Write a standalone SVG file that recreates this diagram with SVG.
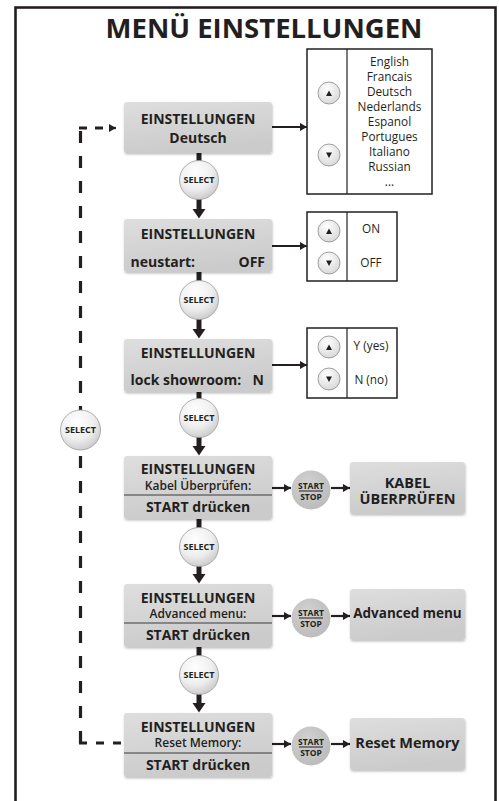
<svg xmlns="http://www.w3.org/2000/svg" width="499" height="801" viewBox="0 0 499 801">
<defs>
<linearGradient id="nodeG" x1="0" y1="0" x2="0.3" y2="1"><stop offset="0" stop-color="#dedede"/><stop offset="1" stop-color="#cbcbcb"/></linearGradient>
<radialGradient id="selG" cx="0.4" cy="0.3" r="0.8"><stop offset="0" stop-color="#ffffff"/><stop offset="0.55" stop-color="#eeeeee"/><stop offset="1" stop-color="#c2c2c2"/></radialGradient>
<radialGradient id="ssG" cx="0.4" cy="0.35" r="0.75"><stop offset="0" stop-color="#d2d2d2"/><stop offset="1" stop-color="#b9b9b9"/></radialGradient>
<radialGradient id="udG" cx="0.4" cy="0.3" r="0.8"><stop offset="0" stop-color="#ffffff"/><stop offset="1" stop-color="#d4d4d4"/></radialGradient>
<filter id="sh" x="-10%" y="-10%" width="125%" height="140%"><feDropShadow dx="0.5" dy="1.5" stdDeviation="1.2" flood-color="#000" flood-opacity="0.25"/></filter>
<marker id="ah" markerUnits="userSpaceOnUse" markerWidth="8" markerHeight="8" refX="7" refY="4" orient="auto"><path d="M0,0 L7,4 L0,8 z" fill="#231f20"/></marker>
</defs>
<style>
.t{font-family:"Open Sans","Noto Sans",sans-serif;fill:#231f20}
.nb{font-size:14px;font-weight:700;text-anchor:middle}
.nl{font-size:14px;font-weight:700}
.ns{font-size:12px;font-weight:600;text-anchor:middle}
.rb{font-size:14.5px;font-weight:700;text-anchor:middle}
.rs{font-size:13.5px;font-weight:700;text-anchor:middle}
.opt{font-size:11.8px;font-weight:400;text-anchor:middle}
.sel{font-size:9px;font-weight:700;text-anchor:middle}
.ss{font-size:8.5px;font-weight:700;text-anchor:middle}
.node{fill:url(#nodeG);filter:url(#sh)}
.selc{fill:url(#selG);stroke:#9a9a9a;stroke-width:0.8}
.ssc{fill:url(#ssG)}
.udc{fill:url(#udG);stroke:#8a8a8a;stroke-width:0.8}
.box{fill:#ffffff;stroke:#231f20;stroke-width:1.5}
.dv{stroke:#231f20;stroke-width:1.2}
.ln{stroke:#231f20;stroke-width:2.2;fill:none}
.thick{stroke:#231f20;stroke-width:5;fill:none}
.dash{stroke:#231f20;stroke-width:3.2;fill:none}
.tri{fill:#231f20}
</style>

<rect x="15.5" y="7.5" width="480" height="850" fill="#ffffff" stroke="#231f20" stroke-width="2.6"/>
<text class="t" x="264" y="38" font-size="27.5" font-weight="700" text-anchor="middle">MENÜ EINSTELLUNGEN</text>

<g id="connectors">
  <path class="dash" d="M80.5,743 V128" stroke-dasharray="12 13"/>
  <path class="dash" d="M79,128 H112" stroke-dasharray="8 8"/>
  <path d="M112,128 H116" class="ln" stroke-width="3" marker-end="url(#ah)"/>
  <path class="dash" d="M79,743 H124" stroke-dasharray="8 9"/>
  <path class="ln" d="M272,127 H307" marker-end="url(#ah)"/>
  <path class="ln" d="M272,246 H307" marker-end="url(#ah)"/>
  <path class="ln" d="M272,365 H307" marker-end="url(#ah)"/>
  <path class="ln" d="M272,488 H291" marker-end="url(#ah)"/>
  <path class="ln" d="M331,488 H350" marker-end="url(#ah)"/>
  <path class="ln" d="M272,616 H291" marker-end="url(#ah)"/>
  <path class="ln" d="M331,616 H350" marker-end="url(#ah)"/>
  <path class="ln" d="M272,744 H291" marker-end="url(#ah)"/>
  <path class="ln" d="M331,744 H350" marker-end="url(#ah)"/>
  <path class="thick" d="M199,153 V162"/>
  <path class="thick" d="M199,198 V210"/><polygon class="tri" points="192.5,209 205.5,209 199,218.5"/>
  <path class="thick" d="M199,272 V282"/>
  <path class="thick" d="M199,318 V330"/><polygon class="tri" points="192.5,329 205.5,329 199,338.5"/>
  <path class="thick" d="M199,392 V400"/>
  <path class="thick" d="M199,436 V447"/><polygon class="tri" points="192.5,446 205.5,446 199,455.5"/>
  <path class="thick" d="M199,519 V529"/>
  <path class="thick" d="M199,565 V575"/><polygon class="tri" points="192.5,574 205.5,574 199,583.5"/>
  <path class="thick" d="M199,647 V657"/>
  <path class="thick" d="M199,693 V704"/><polygon class="tri" points="192.5,703 205.5,703 199,712.5"/>
</g>

<g id="node1">
  <rect class="node" x="124" y="102" width="148" height="51" rx="3"/>
  <text class="t nb" x="198" y="124">EINSTELLUNGEN</text>
  <text class="t nb" x="198" y="143">Deutsch</text>
</g>
<g id="languages">
  <rect class="box" x="307" y="49" width="125" height="145"/>
  <line class="dv" x1="347" y1="49" x2="347" y2="194"/>
  <circle class="udc" cx="329" cy="93" r="11"/><polygon class="tri" points="326,96 332,96 329,90.5"/>
  <circle class="udc" cx="329" cy="155" r="11"/><polygon class="tri" points="326,152.5 332,152.5 329,158"/>
  <text class="t opt" x="389.5" y="66">English</text>
  <text class="t opt" x="389.5" y="81">Francais</text>
  <text class="t opt" x="389.5" y="96">Deutsch</text>
  <text class="t opt" x="389.5" y="111">Nederlands</text>
  <text class="t opt" x="389.5" y="126">Espanol</text>
  <text class="t opt" x="389.5" y="141">Portugues</text>
  <text class="t opt" x="389.5" y="156">Italiano</text>
  <text class="t opt" x="389.5" y="171">Russian</text>
  <text class="t opt" x="389.5" y="186">...</text>
</g>
<g id="select1"><circle class="selc" cx="199" cy="180" r="19.5"/><text class="t sel" x="199" y="183.3">SELECT</text></g>

<g id="node2">
  <rect class="node" x="124" y="219" width="148" height="53" rx="3"/>
  <text class="t nb" x="198" y="239">EINSTELLUNGEN</text>
  <text class="t nl" x="130.5" y="267">neustart:</text>
  <text class="t nl" x="265" y="267" text-anchor="end">OFF</text>
</g>
<g id="onoff">
  <rect class="box" x="307" y="212" width="90" height="69"/>
  <line class="dv" x1="347" y1="212" x2="347" y2="281"/>
  <circle class="udc" cx="329" cy="231" r="11"/><polygon class="tri" points="326,234 332,234 329,228.5"/>
  <circle class="udc" cx="329" cy="263" r="11"/><polygon class="tri" points="326,260.5 332,260.5 329,266"/>
  <text class="t opt" x="371" y="233">ON</text>
  <text class="t opt" x="371" y="267">OFF</text>
</g>
<g id="select2"><circle class="selc" cx="199" cy="300" r="19.5"/><text class="t sel" x="199" y="303.3">SELECT</text></g>

<g id="node3">
  <rect class="node" x="124" y="339" width="148" height="53" rx="3"/>
  <text class="t nb" x="198" y="358">EINSTELLUNGEN</text>
  <text class="t nl" x="130.5" y="385">lock showroom:</text>
  <text class="t nl" x="264" y="385" text-anchor="end">N</text>
</g>
<g id="yesno">
  <rect class="box" x="307" y="328" width="90" height="70"/>
  <line class="dv" x1="347" y1="328" x2="347" y2="398"/>
  <circle class="udc" cx="329" cy="347" r="11"/><polygon class="tri" points="326,350 332,350 329,344.5"/>
  <circle class="udc" cx="329" cy="379" r="11"/><polygon class="tri" points="326,376.5 332,376.5 329,382"/>
  <text class="t opt" x="371" y="350">Y (yes)</text>
  <text class="t opt" x="371" y="384">N (no)</text>
</g>
<g id="select3"><circle class="selc" cx="199" cy="418" r="19.5"/><text class="t sel" x="199" y="421.3">SELECT</text></g>

<g id="node4">
  <rect class="node" x="124" y="456" width="148" height="63" rx="3"/>
  <text class="t nb" x="198" y="473.5">EINSTELLUNGEN</text>
  <text class="t ns" x="198" y="490">Kabel Überprüfen:</text>
  <line x1="124" y1="495" x2="272" y2="495" stroke="#3a3a3a" stroke-width="1"/>
  <text class="t nb" x="198" y="512">START drücken</text>
</g>
<g id="startstop1"><circle class="ssc" cx="311" cy="490" r="19.5"/><text class="t ss" x="311" y="489">START</text><line x1="299" y1="491" x2="323" y2="491" stroke="#231f20" stroke-width="1"/><text class="t ss" x="311" y="500">STOP</text></g>
<g id="kabel">
  <rect class="node" x="350" y="462" width="115" height="52" rx="3"/>
  <text class="t rb" x="407.5" y="487.5">KABEL</text>
  <text class="t rb" x="407.5" y="503.5">ÜBERPRÜFEN</text>
</g>
<g id="select4"><circle class="selc" cx="199" cy="547" r="19.5"/><text class="t sel" x="199" y="550.3">SELECT</text></g>

<g id="node5">
  <rect class="node" x="124" y="584" width="148" height="63" rx="3"/>
  <text class="t nb" x="198" y="602.5">EINSTELLUNGEN</text>
  <text class="t ns" x="198" y="618">Advanced menu:</text>
  <line x1="124" y1="623" x2="272" y2="623" stroke="#3a3a3a" stroke-width="1"/>
  <text class="t nb" x="198" y="640">START drücken</text>
</g>
<g id="startstop2"><circle class="ssc" cx="311" cy="618" r="19.5"/><text class="t ss" x="311" y="616">START</text><line x1="299" y1="618" x2="323" y2="618" stroke="#231f20" stroke-width="1"/><text class="t ss" x="311" y="627">STOP</text></g>
<g id="advanced">
  <rect class="node" x="350" y="589" width="115" height="51" rx="3"/>
  <text class="t rs" x="407.5" y="618">Advanced menu</text>
</g>
<g id="select5"><circle class="selc" cx="199" cy="675" r="19.5"/><text class="t sel" x="199" y="678.3">SELECT</text></g>

<g id="node6">
  <rect class="node" x="124" y="713" width="148" height="64" rx="3"/>
  <text class="t nb" x="198" y="731.5">EINSTELLUNGEN</text>
  <text class="t ns" x="198" y="747">Reset Memory:</text>
  <line x1="124" y1="753" x2="272" y2="753" stroke="#3a3a3a" stroke-width="1"/>
  <text class="t nb" x="198" y="770">START drücken</text>
</g>
<g id="startstop3"><circle class="ssc" cx="311" cy="746" r="19.5"/><text class="t ss" x="311" y="745">START</text><line x1="299" y1="747" x2="323" y2="747" stroke="#231f20" stroke-width="1"/><text class="t ss" x="311" y="756">STOP</text></g>
<g id="reset">
  <rect class="node" x="350" y="718" width="115" height="52" rx="3"/>
  <text class="t rb" x="407.5" y="748">Reset Memory</text>
</g>

<g id="select-loop"><circle class="selc" cx="80.5" cy="430" r="20"/><text class="t sel" x="80.5" y="433.3">SELECT</text></g>
</svg>
